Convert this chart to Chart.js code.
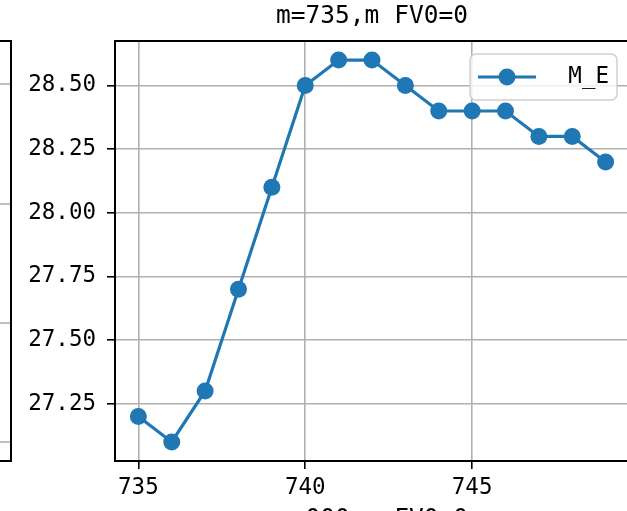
<!DOCTYPE html>
<html>
<head>
<meta charset="utf-8">
<script src="https://cdn.jsdelivr.net/npm/chart.js@4.4.0/dist/chart.umd.min.js"></script>
<style>
  html, body { margin: 0; padding: 0; background: #fff; }
  #wrap { width: 627px; height: 511px; overflow: hidden; position: relative; }
  #chart { position: absolute; left: 0; top: 0; }
</style>
</head>
<body>
<div id="wrap"><canvas id="chart" width="640" height="511"></canvas></div>
<script>
var xValues = [735, 736, 737, 738, 739, 740, 741, 742, 743, 744, 745, 746, 747, 748, 749];
var meValues = [27.2, 27.1, 27.3, 27.7, 28.1, 28.5, 28.6, 28.6, 28.5, 28.4, 28.4, 28.4, 28.3, 28.3, 28.2];
var xTicks = [735, 740, 745];
var yTicks = [27.25, 27.5, 27.75, 28.0, 28.25, 28.5];
var seriesLabel = 'M_E';
var titleText = 'm=735,m FV0=0';
var bottomText = 'm=000,m FV0=0';

var blue = '#1f77b4';
var fontFamily = "'DejaVu Sans Mono', 'Liberation Mono', monospace";
var tickSize = 22.5;
var titleSize = 24.5;

// frame, cut-off neighbour panel, cut-off lower title, legend
var extras = {
    id: 'extras',
    afterDraw: function (chart) {
        var c = chart.ctx;
        var a = chart.chartArea;
        c.save();
        // top + right frame
        c.strokeStyle = '#000';
        c.lineWidth = 2;
        c.beginPath();
        c.moveTo(a.left, a.top);
        c.lineTo(a.right, a.top);
        c.lineTo(a.right, a.bottom);
        c.stroke();

        // neighbour panel on the left (only its right edge shows)
        c.strokeStyle = '#b0b0b0';
        c.lineWidth = 1.6;
        [84, 204, 323, 442].forEach(function (y) {
            c.beginPath(); c.moveTo(0, y); c.lineTo(11, y); c.stroke();
        });
        c.strokeStyle = '#000';
        c.lineWidth = 2;
        c.beginPath();
        c.moveTo(0, a.top); c.lineTo(11, a.top); c.lineTo(11, a.bottom); c.lineTo(0, a.bottom);
        c.stroke();

        // next panel's title, cut by the bottom edge
        c.fillStyle = '#000';
        c.font = titleSize + 'px ' + fontFamily;
        c.textAlign = 'center';
        c.textBaseline = 'middle';
        c.fillText(bottomText, (a.left + a.right) / 2, 520);

        // legend
        var lx = 470, ly = 54, lw = 147, lh = 46;
        c.fillStyle = 'rgba(255,255,255,0.8)';
        c.strokeStyle = '#d0d0d0';
        c.lineWidth = 1.5;
        c.beginPath();
        c.roundRect(lx, ly, lw, lh, 6);
        c.fill();
        c.stroke();
        var cy = ly + lh / 2;
        c.strokeStyle = blue;
        c.lineWidth = 3.2;
        c.beginPath(); c.moveTo(478, cy); c.lineTo(536, cy); c.stroke();
        c.fillStyle = blue;
        c.beginPath(); c.arc(507, cy, 8.5, 0, Math.PI * 2); c.fill();
        c.fillStyle = '#000';
        c.font = tickSize + 'px ' + fontFamily;
        c.textAlign = 'right';
        c.fillText(chart.data.datasets[0].label, 609, cy);
        c.restore();
    }
};

new Chart(document.getElementById('chart'), {
    type: 'line',
    data: {
        datasets: [{
            label: seriesLabel,
            data: xValues.map(function (x, i) { return {x: x, y: meValues[i]}; }),
            borderColor: blue,
            backgroundColor: blue,
            borderWidth: 3.2,
            pointRadius: 8.5,
            pointHoverRadius: 8.5,
            pointBorderWidth: 0,
            tension: 0
        }]
    },
    options: {
        responsive: false,
        animation: false,
        layout: { padding: { left: 0, right: 11, top: 0, bottom: 0 } },
        plugins: {
            legend: { display: false },
            tooltip: { enabled: false },
            title: {
                display: true,
                text: titleText,
                fullSize: false,
                color: '#000',
                font: { family: fontFamily, size: titleSize, weight: 'normal', lineHeight: 1.2 },
                padding: { top: 1.5, bottom: 10.1 }
            }
        },
        scales: {
            x: {
                type: 'linear',
                min: 734.3,
                max: 749.7,
                afterBuildTicks: function (s) { s.ticks = xTicks.map(function (v) { return {value: v}; }); },
                afterFit: function (s) { s.height = 50; },
                grid: { color: '#b0b0b0', lineWidth: 1.6, tickColor: '#000', tickLength: 8 },
                border: { color: '#000', width: 2 },
                ticks: {
                    color: '#000',
                    padding: 6,
                    maxRotation: 0,
                    font: { family: fontFamily, size: tickSize },
                    callback: function (v) { return String(v); }
                }
            },
            y: {
                type: 'linear',
                min: 27.025,
                max: 28.675,
                afterBuildTicks: function (s) { s.ticks = yTicks.map(function (v) { return {value: v}; }); },
                afterFit: function (s) { s.width = 115; },
                grid: { color: '#b0b0b0', lineWidth: 1.6, tickColor: '#000', tickLength: 8 },
                border: { color: '#000', width: 2 },
                ticks: {
                    color: '#000',
                    padding: 11,
                    font: { family: fontFamily, size: tickSize },
                    callback: function (v) { return Number(v).toFixed(2); }
                }
            }
        }
    },
    plugins: [extras]
});
</script>
</body>
</html>
